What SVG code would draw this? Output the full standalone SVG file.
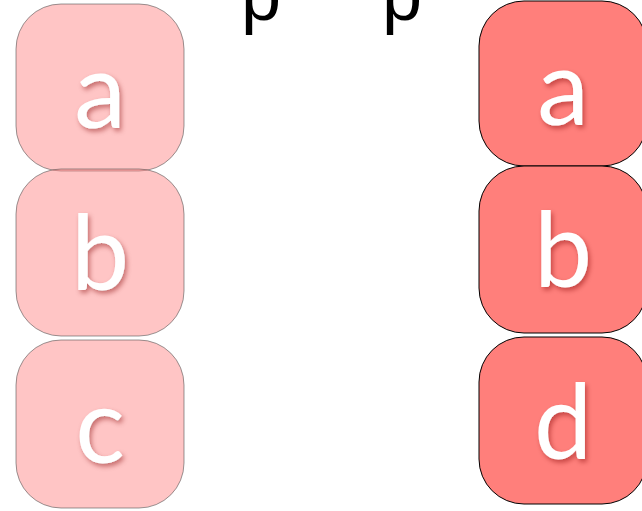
<svg xmlns="http://www.w3.org/2000/svg" width="642" height="511" viewBox="0 0 642 511">
<defs>
<style>
.lbox{fill:#ff8080;fill-opacity:0.46;stroke:#555;stroke-opacity:0.6;stroke-width:1}
.rbox{fill:#ff7f7b;stroke:#000;stroke-width:1}
.lbl{font-family:Lato,"Liberation Sans",sans-serif;font-size:104px;fill:#fff;text-anchor:middle;filter:url(#sh)}
.p{font-family:"Liberation Sans",sans-serif;font-size:72px;fill:#000}
</style>
<filter id="sh" x="-30%" y="-30%" width="160%" height="160%">
<feDropShadow dx="2" dy="3" stdDeviation="2.5" flood-color="#800000" flood-opacity="0.45"/>
</filter>
</defs>
<g id="p-labels">
<text class="p" x="241" y="20">p</text>
<text class="p" x="382" y="20">p</text>
</g>
<g id="left-a"><rect class="lbox" x="16" y="4" width="168" height="167" rx="45"/><text class="lbl" x="100" y="128">a</text></g>
<g id="left-b"><rect class="lbox" x="16" y="169" width="168" height="167" rx="45"/><text class="lbl" x="100" y="290">b</text></g>
<g id="left-c"><rect class="lbox" x="16" y="340" width="168" height="168" rx="45"/><text class="lbl" x="100" y="463">c</text></g>
<g id="right-a"><rect class="rbox" x="479" y="1" width="168" height="165" rx="45"/><text class="lbl" x="563" y="125">a</text></g>
<g id="right-b"><rect class="rbox" x="479" y="166" width="168" height="167" rx="45"/><text class="lbl" x="563" y="287">b</text></g>
<g id="right-d"><rect class="rbox" x="479" y="337" width="168" height="167" rx="45"/><text class="lbl" x="563" y="459">d</text></g>
<g id="connectors"/>
</svg>
